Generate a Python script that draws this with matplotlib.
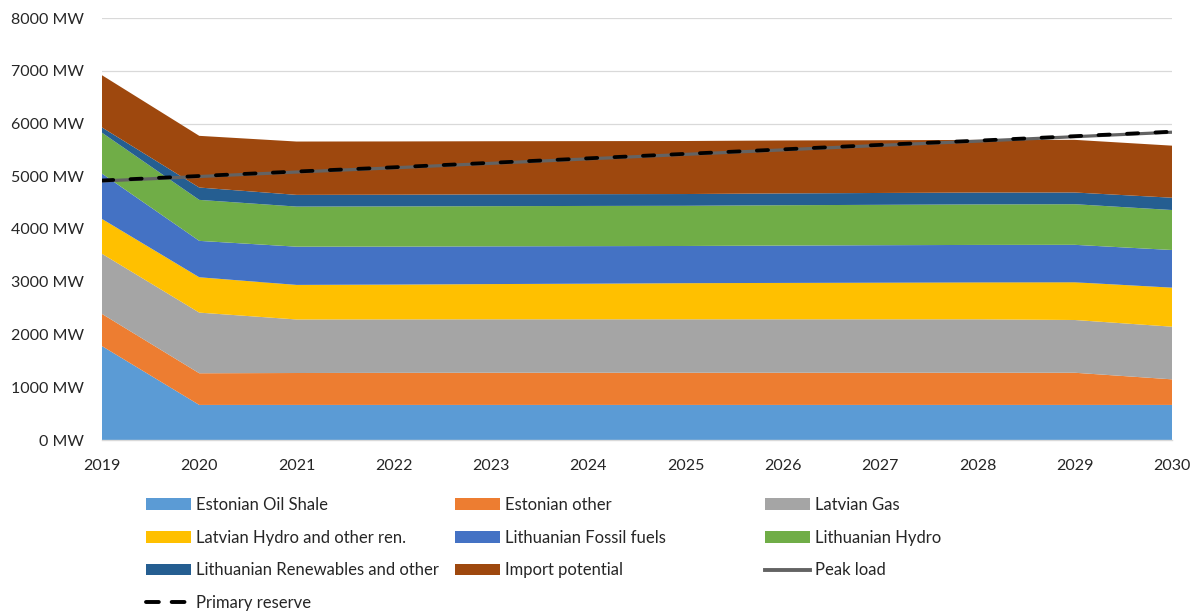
import matplotlib
matplotlib.use("Agg")
import matplotlib.pyplot as plt
from matplotlib.patches import Patch
from matplotlib.lines import Line2D
import numpy as np

years = [2019, 2020, 2021, 2022, 2023, 2024, 2025, 2026, 2027, 2028, 2029, 2030]

estonian_oil_shale = [1780, 665, 665, 665, 665, 665, 665, 665, 665, 665, 665, 665]
estonian_other = [610, 600, 605, 608, 610, 610, 610, 610, 610, 610, 610, 485]
latvian_gas = [1140, 1150, 1015, 1013, 1013, 1013, 1013, 1013, 1013, 1013, 1000, 998]
latvian_hydro = [660, 670, 655, 660, 668, 675, 685, 690, 695, 700, 715, 740]
lithuanian_fossil = [860, 690, 725, 720, 715, 712, 705, 708, 710, 710, 710, 714]
lithuanian_hydro = [775, 777, 760, 762, 762, 762, 762, 765, 765, 768, 770, 758]
lithuanian_renew = [100, 234, 222, 222, 223, 223, 223, 224, 225, 225, 222, 233]
import_potential = [990, 980, 1011, 1010, 1008, 1006, 1005, 1003, 1000, 998, 998, 987]

peak_load = [4910, 4995, 5080, 5160, 5245, 5330, 5415, 5500, 5585, 5665, 5750, 5835]
primary_reserve = [4920, 5005, 5090, 5170, 5255, 5340, 5425, 5510, 5595, 5675, 5760, 5845]

series = [estonian_oil_shale, estonian_other, latvian_gas, latvian_hydro,
          lithuanian_fossil, lithuanian_hydro, lithuanian_renew, import_potential]
labels = ["Estonian Oil Shale", "Estonian other", "Latvian Gas",
          "Latvian Hydro and other ren.", "Lithuanian Fossil fuels", "Lithuanian Hydro",
          "Lithuanian Renewables and other", "Import potential"]
colors = ["#5B9BD5", "#ED7D31", "#A5A5A5", "#FFC000", "#4472C4", "#70AD47",
          "#255E91", "#9E480E"]

yticks = [0, 1000, 2000, 3000, 4000, 5000, 6000, 7000, 8000]

plt.rcParams['font.family'] = ['Lato', 'DejaVu Sans']

fig = plt.figure(figsize=(12, 6.14), dpi=100)
ax = fig.add_axes([102/1200, 1-440/614, (1172-102)/1200, (440-18)/614])

ax.stackplot(years, *series, colors=colors, linewidth=0, zorder=2)
ax.plot(years, peak_load, color="#636363", lw=2.3, zorder=3, solid_capstyle='butt')
ax.plot(years, primary_reserve, color="black", lw=2.7, zorder=4,
        dashes=(3.0, 4.6), dash_capstyle='round')

ax.set_xlim(2019, 2030)
ax.set_ylim(0, 8000)
ax.set_yticks(yticks)
ax.set_yticklabels([f"{v} MW" for v in yticks])
ax.set_xticks(years)
ax.set_xticklabels([str(y) for y in years])
ax.grid(axis='y', color='#D9D9D9', lw=0.9, zorder=0)
ax.set_axisbelow(True)
for s in ['top', 'right', 'left']:
    ax.spines[s].set_visible(False)
ax.spines['bottom'].set_color('#D9D9D9')
ax.spines['bottom'].set_linewidth(1.0)
ax.tick_params(axis='both', length=0, labelsize=11.5, colors='#262626')
ax.tick_params(axis='y', pad=13)
ax.tick_params(axis='x', pad=14)

handles = [Patch(facecolor=c, edgecolor='none') for c in colors]
peak_h = Line2D([], [], color="#636363", lw=2.8)
res_h = Line2D([], [], color="black", lw=2.8, dashes=(3.3, 3.3), dash_capstyle='round')

cols = [
    ([handles[0], handles[3], handles[6], res_h], [labels[0], labels[3], labels[6], "Primary reserve"], 146),
    ([handles[1], handles[4], handles[7]], [labels[1], labels[4], labels[7]], 455),
    ([handles[2], handles[5], peak_h], [labels[2], labels[5], "Peak load"], 765),
]
for hs, ls, xpx in cols:
    leg = fig.legend(hs, ls, loc='upper left', bbox_to_anchor=(xpx/1200, 1-497/614),
                     frameon=False, fontsize=12, handlelength=2.7, handletextpad=0.3,
                     borderpad=0, borderaxespad=0, labelspacing=1.0, labelcolor='#262626')

fig.savefig("out.png", dpi=100)
